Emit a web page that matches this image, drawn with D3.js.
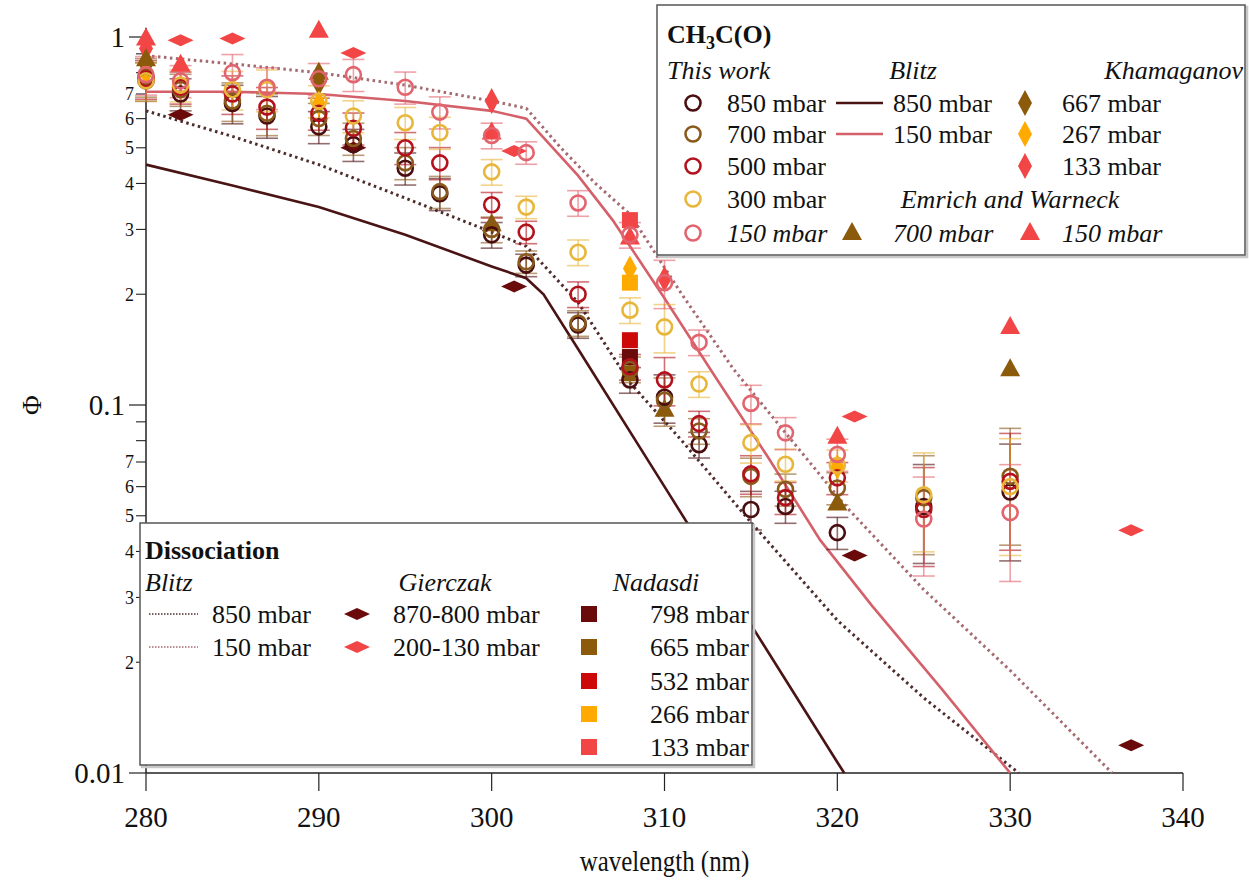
<!DOCTYPE html>
<html><head><meta charset="utf-8">
<script src="https://cdn.jsdelivr.net/npm/d3@7"></script>
<style>body{margin:0;background:#fff} svg{display:block} text{font-family:"Liberation Serif","Times New Roman",serif;fill:#111}</style>
</head><body><svg id="c" width="1249" height="882"></svg>
<script>
// ---------------- DATA ----------------
const xTicks = [280, 290, 300, 310, 320, 330, 340];
const yMajorTicks = [0.01, 0.1, 1];
const yMajorLabels = ["0.01", "0.1", "1"];
const yMinorDigits = [2, 3, 4, 5, 6, 7, 8, 9];
const yMinorLabelDigits = [2, 3, 4, 5, 6, 7];

// This work (CH3C(O)), open circles with error bars
const twWl   = [280, 282, 285, 287, 290, 292, 295, 297, 300, 302, 305, 308, 310, 312, 315, 317, 320, 325, 330];
const tw850  = [0.76, 0.70, 0.66, 0.61, 0.57, 0.51, 0.44, 0.375, 0.29, 0.24, 0.165, 0.117, 0.105, 0.078, 0.052, 0.053, 0.045, 0.053, 0.058];
const tw700  = [0.78, 0.72, 0.67, 0.62, 0.60, 0.53, 0.455, 0.38, 0.30, 0.245, 0.167, 0.125, 0.103, 0.085, 0.064, 0.059, 0.0595, 0.056, 0.064];
const tw500  = [0.77, 0.73, 0.70, 0.645, 0.62, 0.565, 0.50, 0.455, 0.35, 0.295, 0.20, 0.127, 0.117, 0.089, 0.065, 0.056, 0.0634, 0.052, 0.062];
const tw300  = [0.76, 0.74, 0.72, 0.72, 0.67, 0.61, 0.585, 0.55, 0.43, 0.345, 0.26, 0.181, 0.163, 0.114, 0.079, 0.069, 0.0686, 0.057, 0.060];
const tw150  = [0.79, 0.76, 0.80, 0.73, 0.77, 0.79, 0.73, 0.625, 0.54, 0.485, 0.354, 0.29, 0.215, 0.148, 0.101, 0.084, 0.0734, 0.049, 0.051];
const twErrRel = [0.12, 0.1, 0.12, 0.13, 0.1, 0.1, 0.1, 0.1, 0.08, 0.07, 0.08, 0.08, 0.15, 0.08, 0.12, 0.1, 0.1, 0.3, 0.35];

// Blitz model curves
const blitzCO850Wl  = [280, 285, 290, 295, 300, 302, 303, 305, 310, 315, 320, 320.4];
const blitzCO850Phi = [0.45, 0.395, 0.345, 0.29, 0.238, 0.221, 0.20, 0.142, 0.06, 0.0253, 0.0107, 0.01];
const blitzCO150Wl  = [280, 285, 290, 295, 300, 302, 305, 307, 310, 313, 316, 319, 322, 326, 330];
const blitzCO150Phi = [0.71, 0.71, 0.70, 0.67, 0.63, 0.60, 0.42, 0.318, 0.195, 0.118, 0.072, 0.043, 0.0285, 0.017, 0.01];
const blitzD850Wl   = [280, 285, 290, 295, 300, 302, 305, 308, 311, 315, 320, 325, 330.5];
const blitzD850Phi  = [0.63, 0.537, 0.45, 0.365, 0.295, 0.27, 0.19, 0.115, 0.08, 0.048, 0.026, 0.016, 0.01];
const blitzD150Wl   = [280, 285, 290, 295, 300, 302, 304, 306, 308, 311, 314, 317, 320.5, 325, 330, 335.9];
const blitzD150Phi  = [0.89, 0.845, 0.80, 0.74, 0.67, 0.64, 0.50, 0.40, 0.33, 0.20, 0.125, 0.084, 0.053, 0.0315, 0.019, 0.01];

// Khamaganov (tall diamonds)
const kham667Wl = [280, 290];          const kham667Phi = [0.84, 0.75];
const kham267Wl = [280, 290, 308, 320]; const kham267Phi = [0.80, 0.66, 0.235, 0.068];
const kham133Wl = [280, 300, 310];      const kham133Phi = [0.93, 0.67, 0.22];
// Emrich and Warneck (triangles)
const em700Wl = [280, 290, 300, 310, 320, 330];       const em700Phi = [0.87, 0.80, 0.31, 0.097, 0.054, 0.125];
const em150Wl = [280, 282, 290, 300, 308, 320, 330];  const em150Phi = [0.99, 0.84, 1.04, 0.55, 0.285, 0.082, 0.163];
// Gierczak (wide diamonds)
const gier850Wl = [282, 292, 301.3, 321, 337];        const gier850Phi = [0.615, 0.50, 0.21, 0.039, 0.0119];
const gier150Wl = [282, 285, 292, 301.3, 321, 337];   const gier150Phi = [0.98, 0.99, 0.905, 0.49, 0.093, 0.0457];
// Nadasdi (squares) at 308 nm
const nadWl = [308];
const nad798 = [0.135], nad665 = [0.122], nad532 = [0.15], nad266 = [0.215], nad133 = [0.318];

// ---------------- STYLE ----------------
const C = {
  tw850: "#4a0e10", tw700: "#8a5a1c", tw500: "#b3121c", tw300: "#e8b63a", tw150: "#e2646e",
  dark: "#6a0a0a", brown: "#8b5a0a", red: "#cc0808", orange: "#ffaa00", lightred: "#f24646",
  b850: "#4a1414", b150: "#d4606a", d850: "#4e2c2c", d150: "#a46a70"
};

const svg = d3.select("#c");
const x = d3.scaleLinear().domain([280, 340]).range([146, 1183]);
const y = d3.scaleLog().domain([0.01, 1]).range([773, 37]);

// ---------------- AXES ----------------
const ax = svg.append("g");
ax.append("line").attr("x1", x(280)).attr("x2", x(340)).attr("y1", y(0.01)).attr("y2", y(0.01)).attr("stroke", "#222").attr("stroke-width", 1.5);
ax.append("line").attr("x1", x(280)).attr("x2", x(280)).attr("y1", y(0.01)).attr("y2", y(1.06)).attr("stroke", "#222").attr("stroke-width", 1.5);
xTicks.forEach(t => {
  ax.append("line").attr("x1", x(t)).attr("x2", x(t)).attr("y1", y(0.01)).attr("y2", y(0.01) + 18).attr("stroke", "#222").attr("stroke-width", 1.2);
  ax.append("text").attr("x", x(t)).attr("y", y(0.01) + 54).attr("text-anchor", "middle").attr("font-size", 29).text(t);
});
yMajorTicks.forEach((t, i) => {
  ax.append("line").attr("x1", x(280) - 17).attr("x2", x(280)).attr("y1", y(t)).attr("y2", y(t)).attr("stroke", "#222").attr("stroke-width", 1.2);
  ax.append("text").attr("x", x(280) - 21).attr("y", y(t)).attr("dy", "0.35em").attr("text-anchor", "end").attr("font-size", 29).text(yMajorLabels[i]);
});
[0.01, 0.1].forEach(dec => {
  yMinorDigits.forEach(d => {
    const v = dec * d;
    ax.append("line").attr("x1", x(280) - 10).attr("x2", x(280)).attr("y1", y(v)).attr("y2", y(v)).attr("stroke", "#222").attr("stroke-width", 1.1);
    if (yMinorLabelDigits.includes(d))
      ax.append("text").attr("x", x(280) - 12).attr("y", y(v)).attr("dy", "0.35em").attr("text-anchor", "end").attr("font-size", 18).text(d);
  });
});
svg.append("text").attr("transform", `translate(32,${y(0.1)}) rotate(-90)`).attr("text-anchor", "middle").attr("dy", "0.35em").attr("font-size", 27).text("Φ");
svg.append("text").attr("transform", `translate(${(x(280) + x(340)) / 2},871) scale(0.86,1)`).attr("text-anchor", "middle").attr("font-size", 29).text("wavelength (nm)");

// ---------------- CURVES ----------------
const line = d3.line().x(d => x(d[0])).y(d => y(d[1]));
function curve(wl, phi, col, dash, w) {
  svg.append("path").datum(wl.map((v, i) => [v, phi[i]])).attr("d", line).attr("fill", "none")
    .attr("stroke", col).attr("stroke-width", w).attr("stroke-dasharray", dash);
}
curve(blitzD850Wl, blitzD850Phi, C.d850, "2.5 3.5", 3);
curve(blitzD150Wl, blitzD150Phi, C.d150, "2.5 3.5", 3);
curve(blitzCO850Wl, blitzCO850Phi, C.b850, null, 2.6);
curve(blitzCO150Wl, blitzCO150Phi, C.b150, null, 2.6);

// ---------------- MARKERS ----------------
const shp = {
  tall: (cx, cy) => `M${cx},${cy - 13}L${cx + 7},${cy}L${cx},${cy + 13}L${cx - 7},${cy}Z`,
  wide: (cx, cy) => `M${cx - 13},${cy}L${cx},${cy - 6}L${cx + 13},${cy}L${cx},${cy + 6}Z`,
  tri:  (cx, cy) => `M${cx},${cy - 11}L${cx + 10},${cy + 7}L${cx - 10},${cy + 7}Z`,
  sq:   (cx, cy) => `M${cx - 8},${cy - 8}h16v16h-16Z`
};
function pts(wl, phi, kind, col) {
  svg.append("g").selectAll("path").data(wl.map((v, i) => [v, phi[i]])).join("path")
    .attr("d", d => shp[kind](x(d[0]), y(d[1]))).attr("fill", col);
}

// error bars of this work
const twSeries = [[tw850, C.tw850], [tw700, C.tw700], [tw500, C.tw500], [tw300, C.tw300], [tw150, C.tw150]];
const eg = svg.append("g").attr("stroke-width", 1.6);
twSeries.forEach(([vals, col]) => {
  twWl.forEach((w, i) => {
    const v = vals[i], e = twErrRel[i] * v;
    const cx = x(w), y1 = y(v + e), y2 = y(Math.max(v - e, 0.0101));
    eg.append("line").attr("x1", cx).attr("x2", cx).attr("y1", y1).attr("y2", y2).attr("stroke", col).attr("stroke-opacity", 0.6);
    [y1, y2].forEach(yy => eg.append("line").attr("x1", cx - 11).attr("x2", cx + 11).attr("y1", yy).attr("y2", yy).attr("stroke", col).attr("stroke-opacity", 0.6));
  });
});

pts(nadWl, nad665, "sq", C.brown);
pts(nadWl, nad798, "sq", C.dark);
pts(nadWl, nad532, "sq", C.red);
pts(nadWl, nad266, "sq", C.orange);
pts(nadWl, nad133, "sq", C.lightred);
pts(kham667Wl, kham667Phi, "tall", C.brown);
pts(kham267Wl, kham267Phi, "tall", C.orange);
pts(kham133Wl, kham133Phi, "tall", C.lightred);
pts(em700Wl, em700Phi, "tri", C.brown);
pts(em150Wl, em150Phi, "tri", C.lightred);
pts(gier850Wl, gier850Phi, "wide", C.dark);
pts(gier150Wl, gier150Phi, "wide", C.lightred);

twSeries.forEach(([vals, col]) => {
  svg.append("g").selectAll("circle").data(twWl.map((w, i) => [w, vals[i]])).join("circle")
    .attr("cx", d => x(d[0])).attr("cy", d => y(d[1])).attr("r", 7.5)
    .attr("fill", "none").attr("stroke", col).attr("stroke-width", 2.6);
});

// ---------------- LEGENDS ----------------
function box(x0, y0, w, h) {
  svg.append("rect").attr("x", x0 + 2).attr("y", y0 + 2).attr("width", w).attr("height", h).attr("fill", "none").attr("stroke", "#c8c8c8").attr("stroke-width", 2.5);
  svg.append("rect").attr("x", x0).attr("y", y0).attr("width", w).attr("height", h).attr("fill", "#fff").attr("stroke", "#555").attr("stroke-width", 1.5);
}
function txt(tx, ty, s, opt = {}) {
  return svg.append("text").attr("x", tx).attr("y", ty).attr("dy", "0.35em").attr("font-size", opt.size || 26)
    .attr("font-style", opt.italic ? "italic" : null).attr("font-weight", opt.bold ? "bold" : null)
    .attr("text-anchor", opt.anchor || "start").text(s);
}
function lgShape(kind, cx, cy, col) { svg.append("path").attr("d", shp[kind](cx, cy)).attr("fill", col); }

// top-right legend
box(657, 5, 588, 250);
const t1 = svg.append("text").attr("x", 667).attr("y", 34).attr("dy", "0.35em").attr("font-size", 26).attr("font-weight", "bold");
t1.append("tspan").text("CH");
t1.append("tspan").attr("font-size", 18).attr("dy", 6).text("3");
t1.append("tspan").attr("dy", -6).text("C(O)");
txt(667, 70, "This work", { italic: true });
txt(913, 70, "Blitz", { italic: true, anchor: "middle" });
txt(1243, 70, "Khamaganov", { italic: true, anchor: "end" });
const rowsY = [103, 134, 166, 199, 233];
const twLab = ["850 mbar", "700 mbar", "500 mbar", "300 mbar", "150 mbar"];
twSeries.forEach(([v, col], i) => {
  svg.append("circle").attr("cx", 693).attr("cy", rowsY[i]).attr("r", 7.5).attr("fill", "none").attr("stroke", col).attr("stroke-width", 2.6);
  txt(727, rowsY[i], twLab[i], { italic: i === 4 });
});
[[C.b850, "850 mbar"], [C.b150, "150 mbar"]].forEach(([col, lab], i) => {
  svg.append("line").attr("x1", 836).attr("x2", 883).attr("y1", rowsY[i]).attr("y2", rowsY[i]).attr("stroke", col).attr("stroke-width", 2.6);
  txt(893, rowsY[i], lab);
});
[[C.brown, "667 mbar"], [C.orange, "267 mbar"], [C.lightred, "133 mbar"]].forEach(([col, lab], i) => {
  lgShape("tall", 1025, rowsY[i], col);
  txt(1062, rowsY[i], lab);
});
txt(1010, 199, "Emrich and Warneck", { italic: true, anchor: "middle" });
lgShape("tri", 852, 233, C.brown);
txt(893, 233, "700 mbar", { italic: true });
lgShape("tri", 1030, 233, C.lightred);
txt(1062, 233, "150 mbar", { italic: true });

// bottom-left legend
box(140, 523, 612, 242);
txt(145, 550, "Dissociation", { bold: true });
txt(145, 582, "Blitz", { italic: true });
txt(445, 582, "Gierczak", { italic: true, anchor: "middle" });
txt(656, 582, "Nadasdi", { italic: true, anchor: "middle" });
const r2 = [614, 647, 681, 714, 747];
[[C.d850, "850 mbar"], [C.d150, "150 mbar"]].forEach(([col, lab], i) => {
  svg.append("line").attr("x1", 149).attr("x2", 198).attr("y1", r2[i]).attr("y2", r2[i]).attr("stroke", col).attr("stroke-width", 1.6).attr("stroke-dasharray", "1.5 1.5");
  txt(212, r2[i], lab);
});
[[C.dark, "870-800 mbar"], [C.lightred, "200-130 mbar"]].forEach(([col, lab], i) => {
  lgShape("wide", 357, r2[i], col);
  txt(393, r2[i], lab);
});
[[C.dark, "798 mbar"], [C.brown, "665 mbar"], [C.red, "532 mbar"], [C.orange, "266 mbar"], [C.lightred, "133 mbar"]].forEach(([col, lab], i) => {
  lgShape("sq", 589, r2[i], col);
  txt(749, r2[i], lab, { anchor: "end" });
});
</script></body></html>
